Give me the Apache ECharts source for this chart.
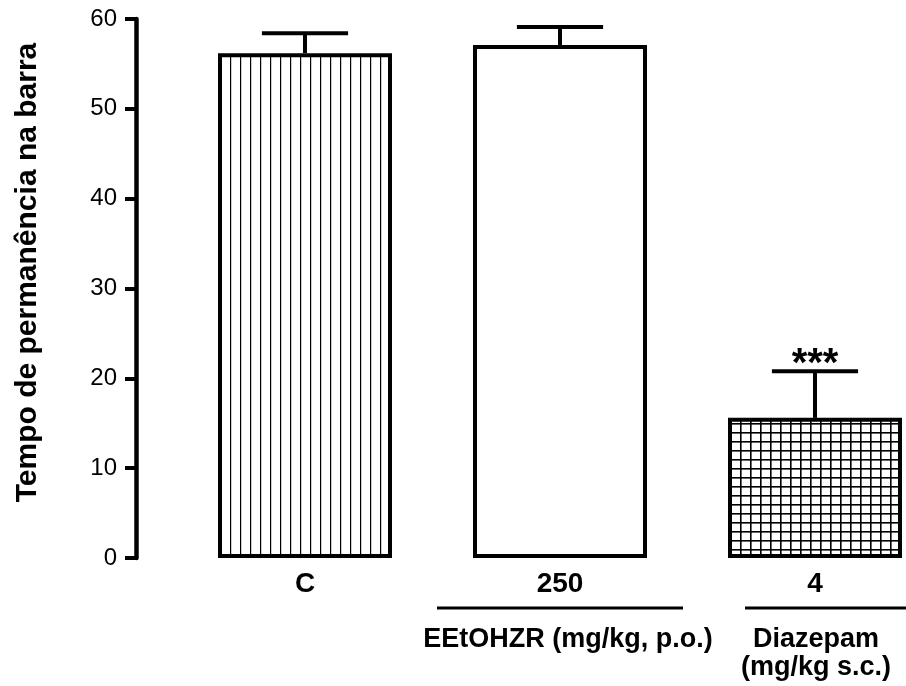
<!DOCTYPE html>
<html>
<head>
<meta charset="utf-8">
<script src="https://cdn.jsdelivr.net/npm/echarts@6/dist/echarts.min.js"></script>
<style>
  html, body { margin: 0; padding: 0; background: #fff; }
  #chart { width: 906px; height: 686px; }
</style>
</head>
<body>
<div id="chart"></div>
<script>
const categories = ['C', '250', '4']
const means = [56.2, 57.1, 15.6]
const sem = [2.2, 2.0, 5.2]
const marks = ['', '', '***']
const yTicks = [0, 10, 20, 30, 40, 50, 60]

const FONT = '"Liberation Sans", Arial, sans-serif'

function makePattern(kind) {
  const c = document.createElement('canvas')
  c.width = 10
  c.height = kind === 'grid' ? 9 : 10
  const ctx = c.getContext('2d')
  ctx.fillStyle = '#fff'
  ctx.fillRect(0, 0, c.width, c.height)
  if (kind === 'none') return c
  ctx.fillStyle = '#000'
  ctx.fillRect(0, 0, kind === 'grid' ? 1.6 : 1.2, c.height)
  if (kind === 'grid') ctx.fillRect(0, 0, c.width, 1.6)
  return c
}

const patterns = [makePattern('vert'), makePattern('none'), makePattern('grid')]

const chart = echarts.init(document.getElementById('chart'), null, { renderer: 'canvas' })

chart.setOption({
  animation: false,
  backgroundColor: '#fff',
  grid: { left: 177.5, width: 765, top: 19, bottom: 128, containLabel: false, outerBoundsMode: 'none' },
  xAxis: {
    type: 'category',
    data: categories,
    axisLine: { show: false },
    axisTick: { show: false },
    axisLabel: { color: '#000', fontFamily: FONT, fontWeight: 'bold', fontSize: 28, margin: 12 }
  },
  yAxis: {
    type: 'value',
    min: 0, max: 60, interval: 10,
    offset: 41.5,
    name: 'Tempo de permanência na barra',
    nameLocation: 'middle',
    nameGap: 93,
    nameTextStyle: { color: '#000', fontFamily: FONT, fontWeight: 'bold', fontSize: 30, padding: [0, 0, 0, 32] },
    axisLine: { show: true, lineStyle: { color: '#000', width: 4.5 } },
    axisTick: { show: true, length: 11, lineStyle: { color: '#000', width: 4 } },
    axisLabel: {
      color: '#000', fontFamily: FONT, fontSize: 24, margin: 19,
      formatter: v => yTicks.includes(v) ? String(v) : ''
    },
    splitLine: { show: false }
  },
  series: [
    {
      type: 'bar',
      barWidth: 174,
      data: means.map((v, i) => ({
        value: v,
        itemStyle: {
          color: { image: patterns[i], repeat: 'repeat' },
          borderColor: '#000',
          borderWidth: 4
        }
      })),
      z: 2
    },
    {
      type: 'custom',
      z: 1,
      data: means.map((m, i) => [i, m, m + sem[i]]),
      renderItem: (params, api) => {
        const i = api.value(0)
        const base = api.coord([i, api.value(1)])
        const top = api.coord([i, api.value(2)])
        const half = api.size([1, 0])[0] * 0.169
        const style = { stroke: '#000', lineWidth: 4 }
        const children = [
          { type: 'line', shape: { x1: base[0], y1: base[1], x2: top[0], y2: top[1] }, style },
          { type: 'line', shape: { x1: top[0] - half, y1: top[1], x2: top[0] + half, y2: top[1] }, style }
        ]
        if (marks[i]) {
          children.push({
            type: 'text',
            style: {
              x: top[0], y: top[1] + 14, text: marks[i],
              fill: '#000', font: 'bold 40px ' + FONT,
              align: 'center', verticalAlign: 'bottom'
            }
          })
        }
        return { type: 'group', children }
      }
    }
  ],
  graphic: [
    { type: 'line', shape: { x1: 437, y1: 608, x2: 683, y2: 608 }, style: { stroke: '#000', lineWidth: 3 } },
    { type: 'line', shape: { x1: 745, y1: 608, x2: 906, y2: 608 }, style: { stroke: '#000', lineWidth: 3 } },
    { type: 'text', x: 568, y: 640, style: { text: 'EEtOHZR (mg/kg, p.o.)', font: 'bold 27px ' + FONT, fill: '#000', align: 'center', verticalAlign: 'middle' } },
    { type: 'text', x: 816, y: 640, style: { text: 'Diazepam', font: 'bold 27px ' + FONT, fill: '#000', align: 'center', verticalAlign: 'middle' } },
    { type: 'text', x: 816, y: 668, style: { text: '(mg/kg s.c.)', font: 'bold 27px ' + FONT, fill: '#000', align: 'center', verticalAlign: 'middle' } }
  ]
})
</script>
</body>
</html>
